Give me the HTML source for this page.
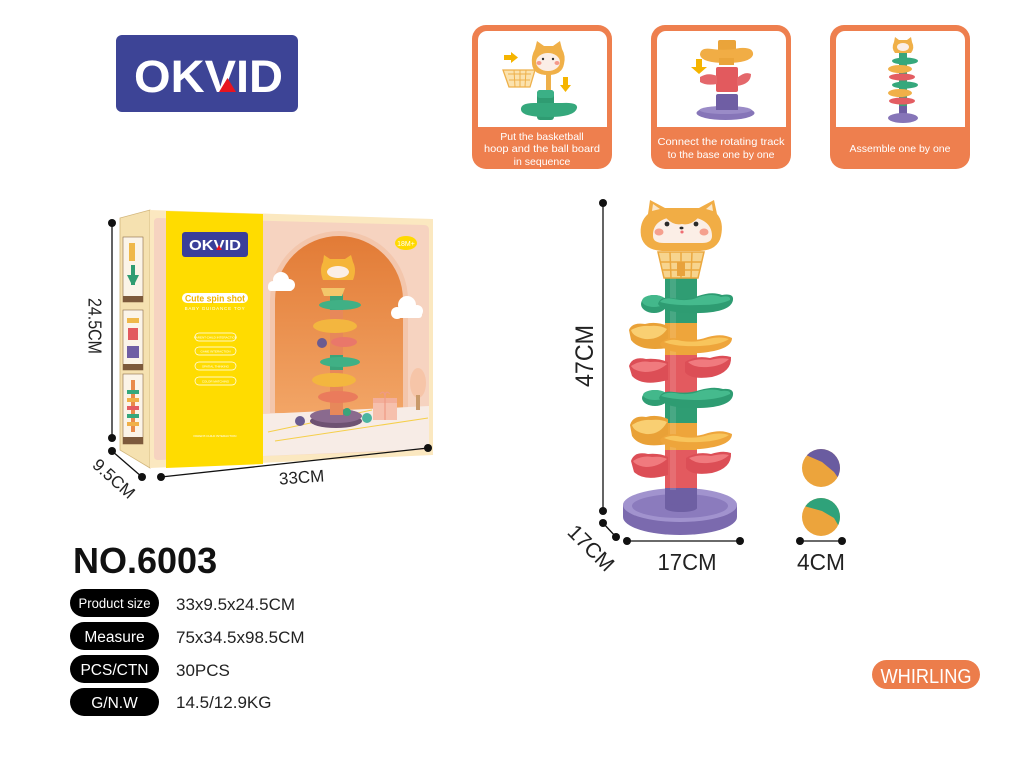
<!DOCTYPE html>
<html><head><meta charset="utf-8"><style>
html,body{margin:0;padding:0;background:#fff;}
svg{display:block;}
text{font-family:"Liberation Sans",sans-serif;}
</style></head><body>
<svg width="1030" height="762" viewBox="0 0 1030 762" xmlns="http://www.w3.org/2000/svg">
<defs>
<linearGradient id="arch" x1="0" y1="0" x2="0" y2="1"><stop offset="0" stop-color="#e27b36"/><stop offset="1" stop-color="#f2a566"/></linearGradient>
<clipPath id="b1"><circle cx="821" cy="468" r="19"/></clipPath>
<clipPath id="b2"><circle cx="821" cy="517" r="19"/></clipPath>
</defs>
<rect width="1030" height="762" fill="#fff"/>

<!-- LOGO -->
<rect x="116" y="35" width="182" height="77" rx="6" fill="#3d4496"/>
<text x="134" y="92" font-size="45" font-weight="bold" fill="#fff" textLength="149" lengthAdjust="spacingAndGlyphs">OKVID</text>
<polygon points="219,92 227.5,78 236,92" fill="#e8141f"/>

<!-- TOP PANELS -->
<g>
<rect x="472" y="25" width="140" height="144" rx="14" fill="#ee7f4e"/>
<path d="M478,40 a9,9 0 0 1 9,-9 h111 a9,9 0 0 1 9,9 v87 h-129 z" fill="#fff"/>
<rect x="651" y="25" width="140" height="144" rx="14" fill="#ee7f4e"/>
<path d="M657,40 a9,9 0 0 1 9,-9 h111 a9,9 0 0 1 9,9 v87 h-129 z" fill="#fff"/>
<rect x="830" y="25" width="140" height="144" rx="14" fill="#ee7f4e"/>
<path d="M836,40 a9,9 0 0 1 9,-9 h111 a9,9 0 0 1 9,9 v87 h-129 z" fill="#fff"/>
<g font-size="10.5" fill="#fff" text-anchor="middle">
<text x="542" y="140">Put the basketball</text>
<text x="542" y="152" textLength="116" lengthAdjust="spacingAndGlyphs">hoop and the ball board</text>
<text x="542" y="165">in sequence</text>
<text x="721" y="145" textLength="127" lengthAdjust="spacingAndGlyphs">Connect the rotating track</text>
<text x="721" y="158">to the base one by one</text>
<text x="900" y="152">Assemble one by one</text>
</g>
</g>
<!-- panel 1 art -->
<g>
<polygon points="504,55 511,55 511,52 518,57.5 511,63 511,60 504,60" fill="#f5b400"/>
<polygon points="563,77 568,77 568,85 571,85 565.5,92 560,85 563,85" fill="#f5b400"/>
<rect x="546" y="70" width="5" height="24" fill="#eeb04a"/>
<path d="M503,70 L535,70 L530,87 L509,87 Z" fill="#fbe2ad" stroke="#eeb04a" stroke-width="1.3"/>
<path d="M508,74 L531,74 M509,80 L530,80 M514,70 L515,87 M520,70 L520,87 M526,70 L525,87" stroke="#eeb04a" stroke-width="1"/>
<path d="M535,49 L537,41 L544,46 L553,46 L560,41 L562,49 Q566,56 564,64 Q562,75 548,75 Q533,75 532,64 Q531,56 535,49 Z" fill="#f0b048"/>
<ellipse cx="548" cy="62" rx="12" ry="9" fill="#fbeee6"/>
<circle cx="543" cy="59" r="1.2" fill="#333"/><circle cx="553" cy="59" r="1.2" fill="#333"/>
<ellipse cx="539" cy="63" rx="2.5" ry="2" fill="#f59a8a"/><ellipse cx="557" cy="63" rx="2.5" ry="2" fill="#f59a8a"/>
<rect x="537" y="90" width="17" height="30" rx="3" fill="#2f9c72"/>
<path d="M521,110 Q520,103 534,103 L562,103 Q578,102 577,108 Q575,117 548,117 Q522,117 521,110 Z" fill="#35a87c"/>
<rect x="537" y="90" width="17" height="8" rx="3" fill="#3bb086"/>
</g>
<!-- panel 2 art -->
<g>
<polygon points="696,59 702,59 702,67 707,67 699,74 691,67 696,67" fill="#f5b400"/>
<rect x="718" y="40" width="18" height="12" rx="2" fill="#eaa43a"/>
<path d="M700,55 Q700,47 712,49 Q726,51 740,48 Q754,47 753,55 Q750,63 726,63 Q702,63 700,55 Z" fill="#f1ad45"/>
<rect x="719" y="58" width="15" height="7" fill="#eaa43a"/>
<rect x="716" y="67" width="22" height="25" rx="2" fill="#e25a5e"/>
<path d="M700,77 Q708,72 717,76 L717,84 Q706,86 700,82 Z" fill="#e4676b"/>
<path d="M737,78 Q745,71 751,74 Q751,84 737,86 Z" fill="#e4676b"/>
<rect x="716" y="94" width="22" height="16" rx="2" fill="#6f5ea4"/>
<ellipse cx="725.5" cy="113" rx="29" ry="7" fill="#8675b8"/>
<ellipse cx="725.5" cy="110" rx="26" ry="4" fill="#9a8bc7"/>
<rect x="716" y="100" width="22" height="10" fill="#6f5ea4"/>
</g>
<!-- panel 3 art -->
<g>
<path d="M894,42 L895,37 L899,40 L907,40 L911,37 L912,42 Q915,48 911,53 L895,53 Q891,48 894,42 Z" fill="#f0b048"/>
<ellipse cx="903" cy="47" rx="6" ry="4" fill="#fbeee6"/>
<rect x="899" y="53" width="8" height="62" fill="#3aa47a"/>
<ellipse cx="905" cy="61" rx="13" ry="3.5" fill="#35a87c"/>
<ellipse cx="900" cy="69" rx="12" ry="4" fill="#f0b048"/>
<ellipse cx="902" cy="77" rx="13" ry="3.5" fill="#e35d62"/>
<ellipse cx="905" cy="85" rx="13" ry="3.5" fill="#35a87c"/>
<ellipse cx="900" cy="93" rx="12" ry="4" fill="#f0b048"/>
<ellipse cx="902" cy="101" rx="13" ry="3.5" fill="#e35d62"/>
<rect x="899" y="106" width="8" height="8" fill="#6f5ea4"/>
<ellipse cx="903" cy="118" rx="15" ry="5" fill="#8675b8"/>
</g>

<!-- BOX -->
<g>
<polygon points="120,218 150,210 150,468 120,450" fill="#f5e1b0" stroke="#d2b67c" stroke-width="0.8"/>
<rect x="123" y="237" width="20" height="65" fill="#fbf4e8" stroke="#8a6a48" stroke-width="0.6"/>
<rect x="123" y="296" width="20" height="6" fill="#7d5a3c"/>
<rect x="129" y="243" width="6" height="18" fill="#efb84a"/>
<path d="M127,275 L139,275 L135,283 L131,283 Z M131,265 h4 v20 h-4 z" fill="#2f9c72"/>
<rect x="123" y="310" width="20" height="60" fill="#fbf4e8" stroke="#8a6a48" stroke-width="0.6"/>
<rect x="123" y="364" width="20" height="6" fill="#7d5a3c"/>
<rect x="127" y="318" width="12" height="5" fill="#efb84a"/>
<rect x="128" y="328" width="10" height="12" fill="#e25a5e"/>
<rect x="127" y="346" width="12" height="12" fill="#6f5ea4"/>
<rect x="123" y="374" width="20" height="70" fill="#fbf4e8" stroke="#8a6a48" stroke-width="0.6"/>
<rect x="123" y="437" width="20" height="7" fill="#7d5a3c"/>
<rect x="131" y="380" width="4" height="52" fill="#e98a4a"/>
<rect x="127" y="390" width="12" height="4" fill="#35a87c"/><rect x="127" y="398" width="12" height="4" fill="#f0b048"/>
<rect x="127" y="406" width="12" height="4" fill="#e35d62"/><rect x="127" y="414" width="12" height="4" fill="#35a87c"/>
<rect x="127" y="422" width="12" height="4" fill="#f0b048"/>

<polygon points="150,210 433,219 433,455 150,468" fill="#fbe8c0"/>
<path d="M158,218 L424,225 Q429,225 429,230 L429,445 Q429,450 424,450 L158,460 Q154,460 154,456 L154,222 Q154,218 158,218 Z" fill="#f6d3c0"/>
<path d="M270,413 L270,300 A69,69 0 0 1 408,300 L408,413 Z" fill="#f3c6ac"/>
<path d="M275,413 L275,300 A64,64 0 0 1 403,300 L403,413 Z" fill="url(#arch)"/>
<polygon points="263,414 429,406 429,449 263,456" fill="#f7ece6"/>
<path d="M268,432 L372,410 M275,441 L428,418" stroke="#f5cf4a" stroke-width="1"/>
<!-- clouds -->
<g fill="#fff">
<circle cx="273" cy="286" r="5"/><circle cx="281" cy="280" r="8"/><circle cx="289" cy="285" r="6"/><rect x="268" y="284" width="25" height="7" rx="3"/>
<circle cx="397" cy="313" r="6"/><circle cx="407" cy="305" r="9"/><circle cx="417" cy="311" r="6"/><rect x="392" y="310" width="30" height="8" rx="3"/>
</g>
<ellipse cx="406" cy="243" rx="11" ry="7" fill="#ffd900"/>
<text x="406" y="246" font-size="7" fill="#fff" text-anchor="middle">18M+</text>
<rect x="373" y="398" width="24" height="22" fill="#f6c0ad"/>
<rect x="373" y="398" width="24" height="5" fill="#f3ae99"/>
<path d="M385,398 v22 M380,394 q5,-5 5,4 q0,-9 5,-4" stroke="#ef9a84" stroke-width="1.2" fill="none"/>
<ellipse cx="418" cy="383" rx="8" ry="15" fill="#f6c5a8"/>
<rect x="416" y="395" width="4" height="15" fill="#c99a6a"/>
<!-- mini tower -->
<ellipse cx="336" cy="421" rx="26" ry="7" fill="#6e5272"/>
<ellipse cx="336" cy="416" rx="26" ry="7" fill="#8a6a8e"/>
<rect x="330" y="288" width="13" height="127" fill="#e7885a"/>
<rect x="330" y="288" width="13" height="22" fill="#3aa47a"/>
<rect x="330" y="355" width="13" height="15" fill="#3aa47a"/>
<ellipse cx="340" cy="305" rx="21" ry="5" fill="#40b085"/>
<ellipse cx="335" cy="326" rx="22" ry="7" fill="#f3b63f"/>
<ellipse cx="344" cy="342" rx="13" ry="5" fill="#e9776a"/>
<circle cx="322" cy="343" r="5" fill="#6a5b90"/>
<ellipse cx="340" cy="362" rx="20" ry="5" fill="#40b085"/>
<ellipse cx="334" cy="380" rx="22" ry="7" fill="#f3b63f"/>
<ellipse cx="338" cy="397" rx="20" ry="6" fill="#ea7b5c"/>
<path d="M321,288 L345,288 L342,296 L324,296 Z" fill="#f3c66a"/>
<path d="M323,262 L324,255 L330,259 L345,259 L351,255 L353,262 Q357,270 353,280 L323,280 Q319,270 323,262 Z" fill="#f5b53a"/>
<ellipse cx="338" cy="272" rx="11" ry="6" fill="#fbeee6"/>
<circle cx="300" cy="421" r="5" fill="#6a5b90"/><circle cx="347" cy="412" r="4" fill="#3aa47a"/><circle cx="367" cy="418" r="5" fill="#4bb5a0"/>
<!-- yellow band -->
<polygon points="166,211 263,214 263,464 166,468" fill="#ffdc00"/>
<rect x="182" y="232" width="66" height="25" rx="3" fill="#3a3f9a"/>
<text x="189" y="250" font-size="15" font-weight="bold" fill="#fff" textLength="52" lengthAdjust="spacingAndGlyphs">OKVID</text>
<polygon points="216,250 219,245 222,250" fill="#e8141f"/>
<rect x="182" y="293" width="66" height="10" rx="5" fill="#fff"/>
<text x="215" y="301.5" font-size="9" font-weight="bold" fill="#f2b400" text-anchor="middle" textLength="60" lengthAdjust="spacingAndGlyphs">Cute spin shot</text>
<text x="215" y="310" font-size="4.5" fill="#fff" text-anchor="middle" letter-spacing="0.8">BABY GUIDANCE TOY</text>
<g fill="none" stroke="#fff" stroke-width="0.7">
<rect x="195" y="333" width="41" height="8" rx="4"/><rect x="195" y="347" width="41" height="8" rx="4"/>
<rect x="195" y="362" width="41" height="8" rx="4"/><rect x="195" y="377" width="41" height="8" rx="4"/>
</g>
<g font-size="3" fill="#fff" text-anchor="middle">
<text x="215.5" y="338.5">PARENT-CHILD INTERACTION</text><text x="215.5" y="352.5">GAME INTERACTION</text>
<text x="215.5" y="367.5">SPATIAL THINKING</text><text x="215.5" y="382.5">COLOR MATCHING</text>
<text x="215" y="437">PARENT-CHILD INTERACTION</text>
</g>
</g>

<!-- BOX DIMENSIONS -->
<g stroke="#111" stroke-width="1.3">
<line x1="112" y1="223" x2="112" y2="438"/>
<line x1="112" y1="451" x2="142" y2="477"/>
<line x1="161" y1="477" x2="428" y2="448"/>
</g>
<g fill="#111">
<circle cx="112" cy="223" r="4"/><circle cx="112" cy="438" r="4"/>
<circle cx="112" cy="451" r="4"/><circle cx="142" cy="477" r="4"/>
<circle cx="161" cy="477" r="4"/><circle cx="428" cy="448" r="4"/>
</g>
<g fill="#222">
<text transform="translate(88.5,326) rotate(90)" font-size="18" text-anchor="middle" textLength="56" lengthAdjust="spacingAndGlyphs">24.5CM</text>
<text transform="translate(110,483) rotate(42)" font-size="17" text-anchor="middle">9.5CM</text>
<text transform="translate(302,483) rotate(-4)" font-size="17" text-anchor="middle">33CM</text>
</g>

<!-- TOWER -->
<g>
<!-- base -->
<ellipse cx="680" cy="517" rx="57" ry="18" fill="#7b6aae"/>
<rect x="623" y="505" width="114" height="12" fill="#7b6aae"/>
<ellipse cx="680" cy="505" rx="57" ry="17" fill="#a193ce"/>
<ellipse cx="680" cy="506" rx="48" ry="12" fill="#8b7bbd"/>
<!-- column -->
<rect x="665" y="278" width="32" height="47" fill="#2f9d73"/>
<rect x="665" y="323" width="32" height="32" fill="#eea53b"/>
<rect x="665" y="355" width="32" height="40" fill="#e35a5f"/>
<rect x="665" y="395" width="32" height="28" fill="#2f9d73"/>
<rect x="665" y="423" width="32" height="27" fill="#eea53b"/>
<rect x="665" y="450" width="32" height="40" fill="#e35a5f"/>
<rect x="665" y="488" width="32" height="20" fill="#6e5fa3"/>
<ellipse cx="681" cy="508" rx="16" ry="4" fill="#6e5fa3"/>
<rect x="670" y="278" width="6" height="212" fill="#fff" opacity="0.12"/>
<!-- G1 -->
<ellipse cx="654" cy="304" rx="13" ry="9" fill="#2f9d73"/>
<ellipse cx="654" cy="301" rx="12" ry="6" fill="#43b88b"/>
<path d="M658,304 Q660,296 672,298 Q686,301 698,296 Q712,291 722,295 Q734,293 733,300 Q731,312 700,313 Q664,314 658,304 Z" fill="#2e9c72"/>
<path d="M660,302 Q664,297 674,299 Q688,302 699,297 Q712,293 721,297 Q731,295 730,300 Q720,305 700,305 Q674,306 660,302 Z" fill="#45ba8d"/>
<!-- O1 -->
<path d="M629,330 Q632,322 645,324 Q656,321 668,326 L668,348 Q640,352 631,340 Z" fill="#e9a137"/>
<path d="M631,330 Q640,325 650,326 Q660,325 667,329 Q660,340 645,339 Q633,337 631,330 Z" fill="#f9cf72"/>
<path d="M660,344 Q666,336 680,339 Q694,342 708,337 Q722,333 732,338 Q732,350 700,353 Q664,354 660,344 Z" fill="#eea53b"/>
<path d="M664,342 Q672,338 682,341 Q696,343 708,339 Q720,336 729,339 Q720,345 700,346 Q676,347 664,342 Z" fill="#f8c55c"/>
<!-- R1 -->
<path d="M629,366 Q632,356 646,359 Q658,358 668,362 L668,380 Q642,387 632,376 Z" fill="#dc4e56"/>
<path d="M631,366 Q640,360 650,362 Q660,361 667,364 Q658,372 645,372 Q634,371 631,366 Z" fill="#f07a7e"/>
<path d="M685,362 Q696,355 710,358 Q722,354 731,357 Q732,372 712,377 Q690,380 685,372 Z" fill="#dc4e56"/>
<path d="M688,362 Q698,358 710,360 Q722,357 729,359 Q722,366 708,367 Q694,368 688,362 Z" fill="#f07a7e"/>
<!-- G2 -->
<ellipse cx="655" cy="398" rx="13" ry="8" fill="#2f9d73"/>
<ellipse cx="655" cy="395" rx="12" ry="5" fill="#43b88b"/>
<path d="M659,398 Q662,390 674,392 Q688,394 700,390 Q714,386 723,389 Q734,388 733,395 Q731,407 700,408 Q664,409 659,398 Z" fill="#2e9c72"/>
<path d="M661,396 Q665,392 675,393 Q689,396 700,391 Q713,388 721,391 Q731,390 730,394 Q720,399 700,400 Q674,400 661,396 Z" fill="#45ba8d"/>
<!-- O2 -->
<path d="M630,425 Q633,415 646,417 Q657,414 668,419 L668,444 Q640,449 632,436 Z" fill="#e9a137"/>
<path d="M632,425 Q641,419 651,420 Q661,419 667,422 Q660,435 646,434 Q634,432 632,425 Z" fill="#f9cf72"/>
<path d="M660,440 Q666,432 680,435 Q694,438 708,433 Q722,429 732,434 Q732,446 700,449 Q664,450 660,440 Z" fill="#eea53b"/>
<path d="M664,438 Q672,434 682,437 Q696,439 708,435 Q720,432 729,435 Q720,441 700,442 Q676,443 664,438 Z" fill="#f8c55c"/>
<!-- R2 -->
<path d="M631,461 Q634,451 648,454 Q660,453 668,457 L668,475 Q644,482 634,472 Z" fill="#dc4e56"/>
<path d="M633,461 Q642,455 652,457 Q662,456 667,459 Q658,467 646,467 Q636,466 633,461 Z" fill="#f07a7e"/>
<path d="M686,458 Q697,451 711,454 Q723,450 731,453 Q732,468 712,473 Q691,476 686,468 Z" fill="#dc4e56"/>
<path d="M689,458 Q699,454 711,456 Q723,453 729,455 Q722,462 708,463 Q695,464 689,458 Z" fill="#f07a7e"/>
<!-- hoop -->
<path d="M658,252 L704,252 L698,278 L664,278 Z" fill="#f7d48e" stroke="#eba83f" stroke-width="1.5"/>
<path d="M660,262 L702,262 M662,270 L700,270 M670,252 L671,278 M681,252 L681,278 M692,252 L691,278" stroke="#eba83f" stroke-width="1.5"/>
<rect x="677" y="262" width="8" height="14" fill="#e8a23c"/>
<!-- head -->
<path d="M648,214 L650,200 L665,208 L699,208 L714,200 L717,214 Q724,222 721,236 Q718,250 700,251 L662,251 Q644,250 641,236 Q639,222 648,214 Z" fill="#f1ad45"/>
<path d="M652,211 L653,204 L660,209 Z M706,209 L712,204 L713,211 Z" fill="#fbe6c8"/>
<path d="M653,236 Q652,217 682,216 Q712,217 712,236 Q712,243 702,243 L664,243 Q653,243 653,236 Z" fill="#fbeee6"/>
<path d="M666,218 Q682,213 698,218 Q690,226 682,224 Q674,226 666,218 Z" fill="#f1ad45"/>
<circle cx="667" cy="224" r="2.4" fill="#2a2a2a"/><circle cx="696" cy="224" r="2.4" fill="#2a2a2a"/>
<ellipse cx="681.5" cy="228" rx="2" ry="1.4" fill="#2a2a2a"/>
<ellipse cx="682" cy="232" rx="1.6" ry="1.5" fill="#ef6d73"/>
<ellipse cx="659" cy="232" rx="4.5" ry="3.5" fill="#f5a08e"/><ellipse cx="704" cy="232" rx="4.5" ry="3.5" fill="#f5a08e"/>
</g>

<!-- balls -->
<circle cx="821" cy="468" r="19" fill="#eca43c"/>
<g clip-path="url(#b1)"><polygon points="798,440 806,455 822,462 834,472 841,482 850,482 850,440" fill="#6a5ca0"/></g>
<circle cx="821" cy="517" r="19" fill="#eca43c"/>
<g clip-path="url(#b2)"><polygon points="798,490 804,506 822,511 834,518 841,530 850,530 850,490" fill="#2fa27a"/></g>

<!-- TOWER DIMENSIONS -->
<g stroke="#111" stroke-width="1.3">
<line x1="603" y1="203" x2="603" y2="511"/>
<line x1="603" y1="523" x2="616" y2="537"/>
<line x1="627" y1="541" x2="740" y2="541"/>
<line x1="800" y1="541" x2="842" y2="541"/>
</g>
<g fill="#111">
<circle cx="603" cy="203" r="4"/><circle cx="603" cy="511" r="4"/>
<circle cx="603" cy="523" r="4"/><circle cx="616" cy="537" r="4"/>
<circle cx="627" cy="541" r="4"/><circle cx="740" cy="541" r="4"/>
<circle cx="800" cy="541" r="4"/><circle cx="842" cy="541" r="4"/>
</g>
<g fill="#222">
<text transform="translate(593,356) rotate(-90)" font-size="25" text-anchor="middle" textLength="62" lengthAdjust="spacingAndGlyphs">47CM</text>
<text transform="translate(586,553) rotate(45)" font-size="21" text-anchor="middle">17CM</text>
<text x="687" y="570" font-size="23" text-anchor="middle" textLength="59" lengthAdjust="spacingAndGlyphs">17CM</text>
<text x="821" y="570" font-size="23" text-anchor="middle" textLength="48" lengthAdjust="spacingAndGlyphs">4CM</text>
</g>

<!-- SPECS -->
<text x="73" y="573" font-size="36" font-weight="bold" fill="#111">NO.6003</text>
<g fill="#000">
<rect x="70" y="589" width="89" height="28" rx="14"/>
<rect x="70" y="622" width="89" height="28" rx="14"/>
<rect x="70" y="655" width="89" height="28" rx="14"/>
<rect x="70" y="688" width="89" height="28" rx="14"/>
</g>
<g fill="#fff" text-anchor="middle">
<text x="114.5" y="608" font-size="13.5" textLength="72" lengthAdjust="spacingAndGlyphs">Product size</text>
<text x="114.5" y="642" font-size="15.5">Measure</text>
<text x="114.5" y="675" font-size="15.5">PCS/CTN</text>
<text x="114.5" y="708" font-size="15.5">G/N.W</text>
</g>
<g fill="#222" font-size="17">
<text x="176" y="610">33x9.5x24.5CM</text>
<text x="176" y="643">75x34.5x98.5CM</text>
<text x="176" y="676">30PCS</text>
<text x="176" y="708">14.5/12.9KG</text>
</g>

<!-- WHIRLING -->
<rect x="872" y="660" width="108" height="29" rx="14.5" fill="#ec7d4b"/>
<text x="926" y="683" font-size="20" fill="#fff" text-anchor="middle" textLength="91" lengthAdjust="spacingAndGlyphs">WHIRLING</text>
</svg>
</body></html>
